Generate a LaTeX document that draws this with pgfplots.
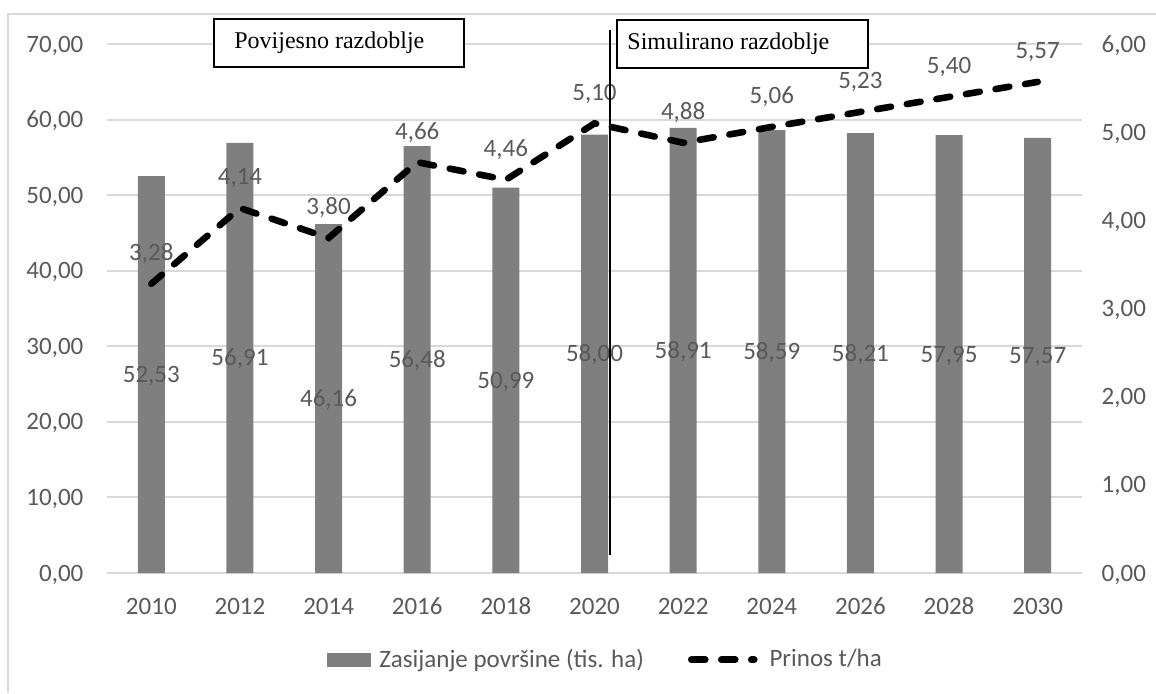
\documentclass[border=0pt]{standalone}
\usepackage{pgfplots}
\pgfplotsset{compat=1.18}
\usepackage{pgfplotstable}
\usepackage{fontspec}
\setmainfont{Carlito}
\newfontfamily\serifbox{Liberation Serif}
\definecolor{bargray}{HTML}{7F7F7F}
\definecolor{txtgray}{HTML}{595959}
\definecolor{gridgray}{HTML}{D9D9D9}

\pgfplotstableread{
x year a b
0 2010 52.53 3.28
1 2012 56.91 4.14
2 2014 46.16 3.80
3 2016 56.48 4.66
4 2018 50.99 4.46
5 2020 58.00 5.10
6 2022 58.91 4.88
7 2024 58.59 5.06
8 2026 58.21 5.23
9 2028 57.95 5.40
10 2030 57.57 5.57
}\datatable

\newcommand{\px}[2]{(#1*0.5pt,{(693-#2)*0.5pt})}

\begin{document}
\begin{tikzpicture}
\useasboundingbox (0,0) rectangle (578pt,346.5pt);
% outer frame (left and top edges visible)
\draw[gridgray, line width=1pt] \px{8}{693} -- \px{8}{14} -- \px{1156}{14};

\pgfplotsset{
  base/.style={
    scale only axis,
    width=487.5pt, height=264.5pt,
    at={(53.5pt,60pt)}, anchor=south west,
    xmin=-0.5, xmax=10.5,
    axis line style={draw=none},
    major tick length=0pt,
    tick label style={font=\fontsize{12.5}{14}\selectfont, text=txtgray, text height=8pt, text depth=0pt},
    /pgf/number format/.cd, fixed, fixed zerofill, precision=2, use comma, assume math mode=true,
  },
}

\begin{axis}[base,
  ymin=0, ymax=70, ytick={0,10,...,70},
  ymajorgrids, grid style={gridgray, line width=1pt},
  xtick={0,...,10},
  xticklabels={2010,2012,2014,2016,2018,2020,2022,2024,2026,2028,2030},
  xticklabel style={yshift=-9pt},
  yticklabel style={xshift=-8.3pt},
]
\addplot[ybar, bar width=13.5pt, fill=bargray, draw=none] table[x=x, y=a] {\datatable};
\addplot[draw=none, mark=none, nodes near coords, point meta=explicit,
  every node near coord/.style={anchor=center, font=\fontsize{12.5}{14}\selectfont, text=txtgray, text height=8pt, text depth=0pt}]
  table[x=x, y expr=\thisrow{a}/2, meta=a] {\datatable};
\end{axis}

\begin{axis}[base,
  ymin=0, ymax=6, ytick={0,1,...,6},
  axis y line*=right,
  xtick=\empty,
  yticklabel style={xshift=6.3pt},
  legend style={draw=none, fill=none, at={(0.512,-0.164)}, anchor=center,
    font=\fontsize{12.5}{14}\selectfont, text=txtgray,
    /tikz/every even column/.append style={column sep=20pt}},
  legend columns=2,
]
\addlegendimage{legend image code/.code={\fill[bargray] (0pt,-3.25pt) rectangle (21.5pt,3.25pt); \path (24pt,0pt);}}
\addlegendentry{Zasijanje površine (tis. ha)}
\addplot[black, line width=3.3pt, line cap=round, dash pattern=on 7pt off 8pt,
  nodes near coords, point meta=explicit,
  every node near coord/.style={anchor=center, yshift=15.5pt, font=\fontsize{12.5}{14}\selectfont, text=txtgray, text height=8pt, text depth=0pt, solid},
  legend image code/.code={\draw[black, line width=3.3pt, line cap=round, dash pattern=on 7pt off 8pt] (1.5pt,0pt) -- (33pt,0pt); \path (37pt,0pt);}]
  table[x=x, y=b, meta=b] {\datatable};
\addlegendentry{Prinos t/ha}
\end{axis}

% period divider and boxes
\draw[black, line width=1pt] \px{610}{30} -- \px{610}{555};
\draw[black, line width=0.6pt, fill=white] \px{214}{19} rectangle \px{464}{67};
\node[anchor=west, inner sep=0pt, font=\serifbox\fontsize{12}{14}\selectfont] at \px{234}{43} {Povijesno razdoblje};
\draw[black, line width=0.6pt, fill=white] \px{617}{20} rectangle \px{868}{68};
\node[anchor=west, inner sep=0pt, font=\serifbox\fontsize{12}{14}\selectfont] at \px{627}{44} {Simulirano razdoblje};
\end{tikzpicture}
\end{document}
